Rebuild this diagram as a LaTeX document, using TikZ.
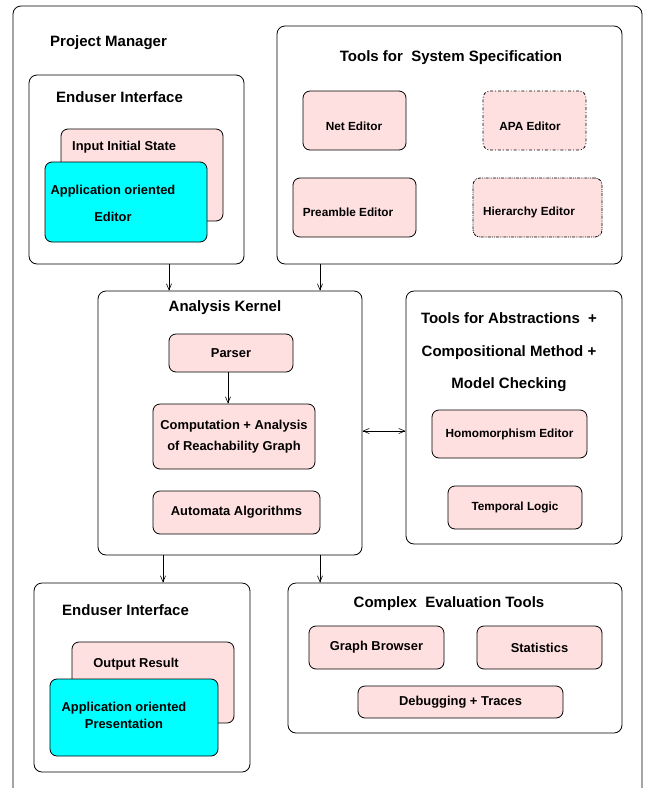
\documentclass[tikz,border=0pt]{standalone}
\usepackage{fontspec}
\setmainfont{Liberation Sans}
\usetikzlibrary{arrows.meta}
\definecolor{toolpink}{RGB}{255,224,224}
\definecolor{appcyan}{RGB}{0,255,255}

\begin{document}
\begin{tikzpicture}[x=1pt, y=-1pt,
    group/.style={draw, line width=0.8pt, rounded corners=8pt, inner sep=0pt},
    tool/.style={draw, line width=0.8pt, rounded corners=7pt, fill=toolpink, inner sep=0pt,
                 align=center, font=\fontsize{12.9}{21}\selectfont\bfseries},
    appl/.style={tool, fill=appcyan},
    heading/.style={font=\fontsize{15}{18}\selectfont\bfseries, inner sep=0pt},
    txt/.style={font=\fontsize{12.9}{14}\selectfont\bfseries, align=center, inner sep=0pt},
    minor/.style={font=\fontsize{11.8}{14}\selectfont\bfseries},
    arrow/.style={-{Straight Barb[length=6pt,width=5pt]}, line width=0.6pt},
    darrow/.style={{Straight Barb[length=6pt,width=5pt]}-{Straight Barb[length=6pt,width=5pt]}, line width=0.6pt}
]
\useasboundingbox (0,0) rectangle (646,788);

% Project Manager
\draw[line width=0.8pt, rounded corners=8pt] (13,790) -- (13,6) -- (642,6) -- (642,790);
\node[heading, anchor=west] (pm) at (50,43) {Project Manager};

% Enduser Interface (Eingabe)
\node[group, minimum width=215pt, minimum height=189pt] (euIn) at (136.5,169.5) {};
\node[heading, anchor=west] (euInT) at (56,97) {Enduser Interface};
\node[tool, minimum width=162pt, minimum height=92pt] (input) at (142,175) {};
\node[txt, anchor=west] (inputT) at (72,147) {Input Initial State};
\node[appl, minimum width=162pt, minimum height=80pt] (appEd) at (126,202) {};
\node[txt, font=\fontsize{12.9}{27}\selectfont\bfseries] (appEdT) at (113,203.5) {Application oriented\\Editor};

% Tools for System Specification
\node[group, minimum width=345pt, minimum height=238pt] (spec) at (449.5,145) {};
\node[heading] (specT) at (451,58) {Tools for\ \ System Specification};
\node[tool, minimum width=103pt, minimum height=59pt] (net) at (354.5,120.5) {};
\node[txt, minor] (netT) at (354,126) {Net Editor};
\node[tool, dash dot, minimum width=103pt, minimum height=59pt] (apa) at (534.5,120.5) {};
\node[txt, minor] (apaT) at (530,126) {APA Editor};
\node[tool, minimum width=123pt, minimum height=59pt] (pre) at (354.5,207.5) {};
\node[txt, minor] (preT) at (348,212) {Preamble Editor};
\node[tool, densely dash dot dot, minimum width=129pt, minimum height=59pt] (hier) at (537.5,207.5) {};
\node[txt, minor] (hierT) at (529,212) {Hierarchy Editor};

% Analysis Kernel
\node[group, minimum width=264pt, minimum height=264pt] (kernel) at (230,423) {};
\node[heading] (kernelT) at (225,308) {Analysis Kernel};
\node[tool, minimum width=124pt, minimum height=38pt] (parser) at (231,353) {Parser};
\node[tool, minimum width=162pt, minimum height=65pt] (comp) at (234,436.5) {Computation + Analysis\\of Reachability Graph};
\node[tool, minimum width=167pt, minimum height=43pt] (auto) at (236.5,512.5) {Automata Algorithms};
\draw[arrow] (parser.south -| 228,0) -- (comp.north -| 228,0);

% Tools for Abstractions
\node[group, minimum width=216pt, minimum height=253pt] (abstr) at (514,417.5) {};
\node[heading, align=center, font=\fontsize{15}{32.5}\selectfont\bfseries] (abstrT) at (509,352.5)
  {Tools for Abstractions\ \ +\\Compositional Method +\\Model Checking};
\node[tool, minor, minimum width=155pt, minimum height=48pt] (homo) at (509.5,434) {Homomorphism Editor};
\node[tool, minor, minimum width=134pt, minimum height=43pt] (temp) at (515,507.5) {Temporal Logic};

% Enduser Interface (Ausgabe)
\node[group, minimum width=216pt, minimum height=189pt] (euOut) at (142,677.5) {};
\node[heading, anchor=west] (euOutT) at (62,610) {Enduser Interface};
\node[tool, minimum width=162pt, minimum height=81pt] (outRes) at (153,682.5) {};
\node[txt] (outResT) at (136,664) {Output Result};
\node[appl, minimum width=168pt, minimum height=77pt] (appPr) at (134,717.5) {};
\node[txt, font=\fontsize{12.9}{17}\selectfont\bfseries] (appPrT) at (124,715.5) {Application oriented\\Presentation};

% Complex Evaluation Tools
\node[group, minimum width=334pt, minimum height=150pt] (evalT) at (455,658) {};
\node[heading] (evalTT) at (449,604) {Complex\ \ Evaluation Tools};
\node[tool, minimum width=135pt, minimum height=43pt] (graph) at (376.5,647.5) {Graph Browser};
\node[tool, minimum width=125pt, minimum height=43pt] (stat) at (539.5,647.5) {Statistics};
\node[tool, minimum width=205pt, minimum height=32pt] (debug) at (460.5,702) {Debugging + Traces};

% Verbindungen
\draw[arrow] (euIn.south -| 169,0) -- (kernel.north -| 169,0);
\draw[arrow] (spec.south -| 320,0) -- (kernel.north -| 320,0);
\draw[darrow] (kernel.east |- 0,431) -- (abstr.west |- 0,431);
\draw[arrow] (kernel.south -| 163,0) -- (euOut.north -| 163,0);
\draw[arrow] (kernel.south -| 320,0) -- (evalT.north -| 320,0);

\end{tikzpicture}
\end{document}
